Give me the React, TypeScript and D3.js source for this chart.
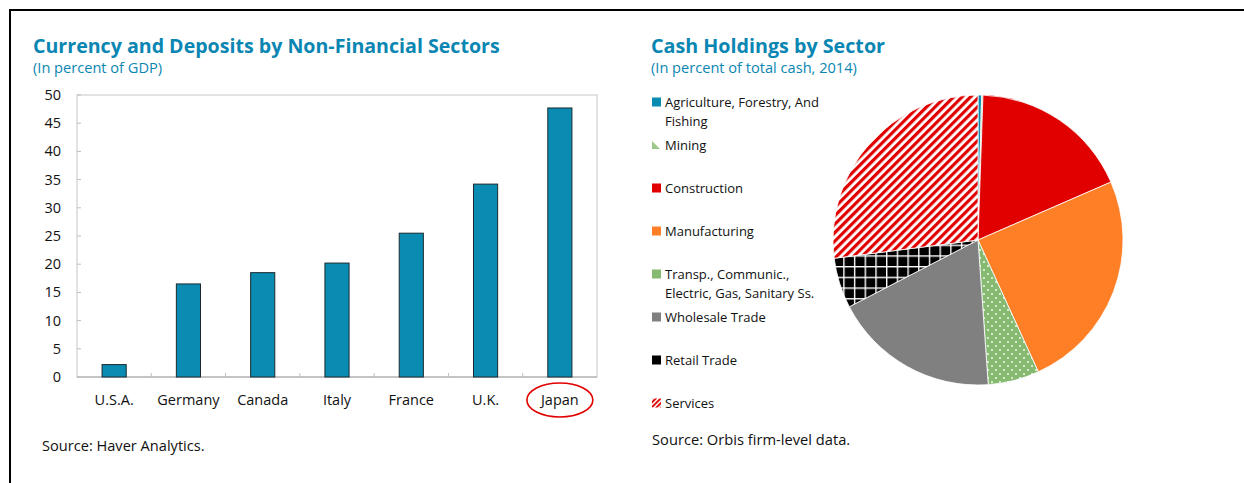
import React from 'react';
import * as d3 from 'd3';

const countries = ['U.S.A.', 'Germany', 'Canada', 'Italy', 'France', 'U.K.', 'Japan'];
const currencyDeposits = [2.2, 16.5, 18.5, 20.2, 25.5, 34.2, 47.7];
const yTicks = [0, 5, 10, 15, 20, 25, 30, 35, 40, 45, 50];
const highlighted = 'Japan';

const sectors = [
  'Agriculture, Forestry, And Fishing',
  'Mining',
  'Construction',
  'Manufacturing',
  'Transp., Communic., Electric, Gas, Sanitary Ss.',
  'Wholesale Trade',
  'Retail Trade',
  'Services',
];
const sectorLegendLines = [
  ['Agriculture, Forestry, And', 'Fishing'],
  ['Mining'],
  ['Construction'],
  ['Manufacturing'],
  ['Transp., Communic.,', 'Electric, Gas, Sanitary Ss.'],
  ['Wholesale Trade'],
  ['Retail Trade'],
  ['Services'],
];
const cashShares = [0.4, 0.15, 17.9, 24.7, 5.7, 18.5, 5.6, 27.0];

const TEAL = '#0a8bb1';
const TITLE = '#0a86b3';
const FONT = '"Open Sans", "Noto Sans", sans-serif';

const sectorFills = [
  '#0a8bb1',
  'url(#pMining)',
  '#e00000',
  '#ff7f27',
  'url(#pDots)',
  '#808080',
  'url(#pGrid)',
  'url(#pStripes)',
];

export default function App() {
  // Bar chart geometry
  const plot = { left: 77, right: 597, top: 95, bottom: 377 };
  const x = d3
    .scaleBand<string>()
    .domain(countries)
    .range([plot.left, plot.right])
    .paddingInner(0.675)
    .paddingOuter(0.3375);
  const y = d3.scaleLinear().domain([0, 50]).range([plot.bottom, plot.top]);
  const step = x.step();
  const bandStart = plot.left;

  // Pie geometry
  const cx = 978;
  const cy = 240;
  const r = 145;
  const pie = d3
    .pie<number>()
    .sort(null)
    .startAngle(0)
    .endAngle(2 * Math.PI)
    .value((d) => d);
  const arcs = pie(cashShares);
  const arc = d3.arc<d3.PieArcDatum<number>>().innerRadius(0).outerRadius(r);

  const legendX = 652;
  const legendY0 = 102;
  const legendStep = 43;

  return (
    <svg
      width={1244}
      height={483}
      style={{ position: 'absolute', left: 0, top: 0, display: 'block', background: '#fff' }}
      fontFamily={FONT}
    >
      <defs>
        <pattern id="pStripes" width="6" height="6" patternUnits="userSpaceOnUse" patternTransform="rotate(45)">
          <rect width="6" height="6" fill="#fff" />
          <rect width="3.2" height="6" fill="#e00000" />
        </pattern>
        <pattern id="pStripesL" width="3.4" height="3.4" patternUnits="userSpaceOnUse" patternTransform="rotate(45)">
          <rect width="3.4" height="3.4" fill="#fff" />
          <rect width="1.9" height="3.4" fill="#e00000" />
        </pattern>
        <pattern id="pGrid" width="10.7" height="10.7" patternUnits="userSpaceOnUse" x={cx} y={cy}>
          <rect width="10.7" height="10.7" fill="#000" />
          <rect x="0" y="0" width="1.4" height="10.7" fill="#fff" />
          <rect x="0" y="0" width="10.7" height="1.4" fill="#fff" />
        </pattern>
        <pattern id="pDots" width="8" height="8" patternUnits="userSpaceOnUse">
          <rect width="8" height="8" fill="#86ba71" />
          <circle cx="2" cy="2" r="0.9" fill="#fff" />
          <circle cx="6" cy="6" r="0.9" fill="#fff" />
        </pattern>
        <pattern id="pMining" width="4" height="4" patternUnits="userSpaceOnUse">
          <rect width="4" height="4" fill="#9cc98a" />
        </pattern>
      </defs>

      {/* outer frame */}
      <rect x={10} y={10} width={1400} height={700} fill="none" stroke="#000" strokeWidth={2} />

      {/* ===== Left chart ===== */}
      <text x={33} y={53} fill={TITLE} fontSize={19.6} fontWeight={700}>
        Currency and Deposits by Non-Financial Sectors
      </text>
      <text x={33} y={73} fill={TITLE} fontSize={14.6}>
        (In percent of GDP)
      </text>

      <rect
        x={plot.left}
        y={plot.top}
        width={plot.right - plot.left}
        height={plot.bottom - plot.top}
        fill="none"
        stroke="#c8c8c8"
        strokeWidth={1}
      />
      <line x1={plot.left} x2={plot.right} y1={plot.bottom} y2={plot.bottom} stroke="#a6a6a6" strokeWidth={1.2} />

      {yTicks.map((t) => (
        <g key={t}>
          <line x1={plot.left} x2={plot.left + 4} y1={y(t)} y2={y(t)} stroke="#bfbfbf" />
          <text x={61} y={y(t)} dy="0.35em" textAnchor="end" fontSize={14.5} fill="#111">
            {t}
          </text>
        </g>
      ))}

      {countries.slice(1).map((c, i) => (
        <line
          key={c}
          x1={bandStart + (i + 1) * step}
          x2={bandStart + (i + 1) * step}
          y1={plot.bottom}
          y2={plot.bottom - 4}
          stroke="#bfbfbf"
        />
      ))}

      {countries.map((c, i) => (
        <rect
          key={c}
          x={x(c)!}
          y={y(currencyDeposits[i])}
          width={x.bandwidth()}
          height={y(0) - y(currencyDeposits[i])}
          fill={TEAL}
          stroke="#1b2a30"
          strokeWidth={1}
        />
      ))}

      {countries.map((c) => (
        <text
          key={c}
          x={x(c)! + x.bandwidth() / 2}
          y={405}
          textAnchor="middle"
          fontSize={14.5}
          fill="#111"
        >
          {c}
        </text>
      ))}

      <ellipse
        cx={x(highlighted)! + x.bandwidth() / 2}
        cy={400}
        rx={33}
        ry={17}
        fill="none"
        stroke="#e00000"
        strokeWidth={1.6}
      />

      <text x={42} y={451} fontSize={14.6} fill="#111">
        Source: Haver Analytics.
      </text>

      {/* ===== Right chart ===== */}
      <text x={651} y={53} fill={TITLE} fontSize={19.7} fontWeight={700}>
        Cash Holdings by Sector
      </text>
      <text x={651} y={73} fill={TITLE} fontSize={14.6}>
        (In percent of total cash, 2014)
      </text>

      {sectors.map((s, i) => {
        const ly = legendY0 + i * legendStep;
        let marker;
        if (i === 1) {
          marker = (
            <polygon
              points={`${legendX},${ly - 4} ${legendX},${ly + 4} ${legendX + 8},${ly + 4}`}
              fill="#9cc98a"
            />
          );
        } else if (i === 7) {
          marker = <rect x={legendX} y={ly - 4.5} width={9} height={9} fill="url(#pStripesL)" />;
        } else if (i === 4) {
          marker = <rect x={legendX} y={ly - 4.5} width={9} height={9} fill="#86ba71" />;
        } else if (i === 6) {
          marker = <rect x={legendX} y={ly - 4.5} width={9} height={9} fill="#000" />;
        } else {
          marker = <rect x={legendX} y={ly - 4.5} width={9} height={9} fill={sectorFills[i]} />;
        }
        return (
          <g key={s}>
            {marker}
            {sectorLegendLines[i].map((line, j) => (
              <text key={j} x={legendX + 13} y={ly + j * 19} dy="0.35em" fontSize={13} fill="#111">
                {line}
              </text>
            ))}
          </g>
        );
      })}

      <g transform={`translate(${cx},${cy})`}>
        {arcs.map((a, i) => (
          <path key={sectors[i]} d={arc(a)!} fill={sectorFills[i]} stroke="#fff" strokeWidth={0.8} />
        ))}
      </g>

      <text x={652} y={445} fontSize={14.7} fill="#111">
        Source: Orbis firm-level data.
      </text>
    </svg>
  );
}
